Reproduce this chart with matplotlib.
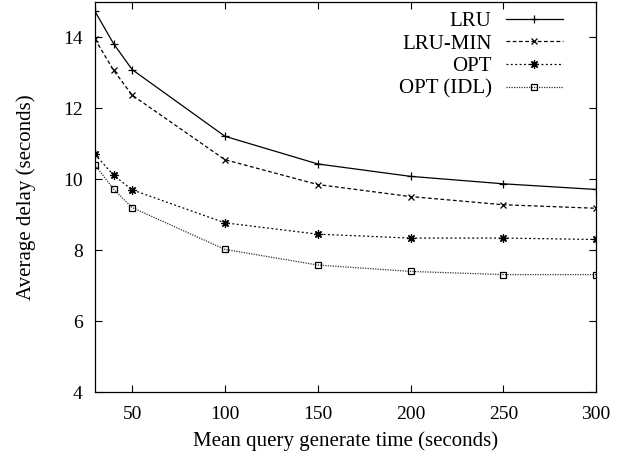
import matplotlib
matplotlib.use('Agg')
import matplotlib.pyplot as plt

plt.rcParams['font.family'] = ['Liberation Serif', 'DejaVu Serif']

x = [30, 40, 50, 100, 150, 200, 250, 300]
lru = [14.73, 13.82, 13.09, 11.21, 10.43, 10.08, 9.87, 9.71]
lru_min = [13.95, 13.07, 12.37, 10.55, 9.85, 9.51, 9.28, 9.18]
opt = [10.70, 10.11, 9.70, 8.77, 8.45, 8.34, 8.34, 8.30]
opt_idl = [10.40, 9.72, 9.20, 8.02, 7.58, 7.40, 7.31, 7.31]
xticks = [50, 100, 150, 200, 250, 300]
yticks = [4, 6, 8, 10, 12, 14]

fig = plt.figure(figsize=(6.19, 4.62), dpi=100)
ax = fig.add_axes([0.1535, 0.1515, 0.8095, 0.8445])

ax.plot(x, lru, color='black', lw=0.9, ls='-', marker='+', ms=6, mew=0.9, label='LRU')
ax.plot(x, lru_min, color='black', lw=0.9, ls=(0, (3, 2)), marker='x', ms=5, mew=0.9, label='LRU-MIN')
ax.plot(x, opt, color='black', lw=0.9, ls=(0, (1.5, 2)), marker=(8, 2, 0), ms=6, mew=0.9, label='OPT')
ax.plot(x, opt_idl, color='#333333', lw=0.9, ls=(0, (1, 1)), marker='s', ms=5, mew=0.9,
        mfc='none', mec='black', label='OPT (IDL)')

ax.set_xlim(30, 300)
ax.set_ylim(4, 15)
ax.set_xticks(xticks)
ax.set_yticks(yticks)
ax.tick_params(direction='in', top=True, right=True, labelsize=14, length=5)
ax.tick_params(axis='x', pad=10)
ax.tick_params(axis='y', pad=9)
for s in ax.spines.values():
    s.set_linewidth(0.9)

ax.set_xlabel('Mean query generate time (seconds)', fontsize=15, labelpad=6)
ax.set_ylabel('Average delay (seconds)', fontsize=15, labelpad=19)

ax.legend(loc='upper right', bbox_to_anchor=(0.933, 0.976), frameon=False, markerfirst=False,
          fontsize=15, handlelength=2.7, labelspacing=0.15, borderaxespad=0, borderpad=0,
          handletextpad=0.7)

fig.savefig('out.png', dpi=100)
